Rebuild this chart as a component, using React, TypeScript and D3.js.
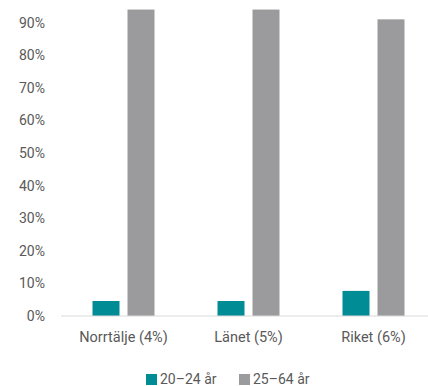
import React from "react";
import * as d3 from "d3";

const categories = ["Norrtälje (4%)", "Länet (5%)", "Riket (6%)"];
const seriesNames = ["20–24 år", "25–64 år"];
const young = [4.6, 4.6, 7.7];
const adult = [94, 94, 91];
const yTicks = [0, 10, 20, 30, 40, 50, 60, 70, 80, 90];
const colors = ["#008C95", "#9B9B9D"];

export default function App() {
  const W = 428, H = 386;
  const x0 = d3.scaleBand().domain(categories).range([61, 436]).paddingInner(0).paddingOuter(0);
  const y = d3.scaleLinear().domain([0, 100]).range([316, -10]);
  const font = "Roboto, 'DejaVu Sans', sans-serif";
  const series = [young, adult];
  return (
    <svg width={W} height={H} style={{ position: "absolute", left: 0, top: 0 }}>
      <rect width={W} height={H} fill="#fff" />
      {yTicks.map((t) => (
        <text key={t} x={45} y={y(t)} dy="0.35em" textAnchor="end" fontSize={14} fill="#595959" fontFamily={font}>
          {t}%
        </text>
      ))}
      {categories.map((c, i) => {
        const cx = x0(c)! + x0.bandwidth() / 2;
        return (
          <g key={c}>
            {series.map((s, j) => {
              const bw = 27;
              const bx = j === 0 ? cx - 31 : cx + 4;
              return (
                <rect key={j} x={bx} y={y(s[i])} width={bw} height={y(0) - y(s[i])} fill={colors[j]} />
              );
            })}
            <text x={cx} y={342} textAnchor="middle" fontSize={14.5} fill="#595959" fontFamily={font}>
              {c}
            </text>
          </g>
        );
      })}
      <line x1={61} x2={428} y1={y(0)} y2={y(0)} stroke="#D9D9D9" strokeWidth={1} />
      {seriesNames.map((n, j) => {
        const lx = j === 0 ? 146 : 239;
        return (
          <g key={n}>
            <rect x={lx} y={374} width={11} height={11} fill={colors[j]} />
            <text x={lx + 14} y={384} fontSize={14} fill="#595959" fontFamily={font}>
              {n}
            </text>
          </g>
        );
      })}
    </svg>
  );
}
